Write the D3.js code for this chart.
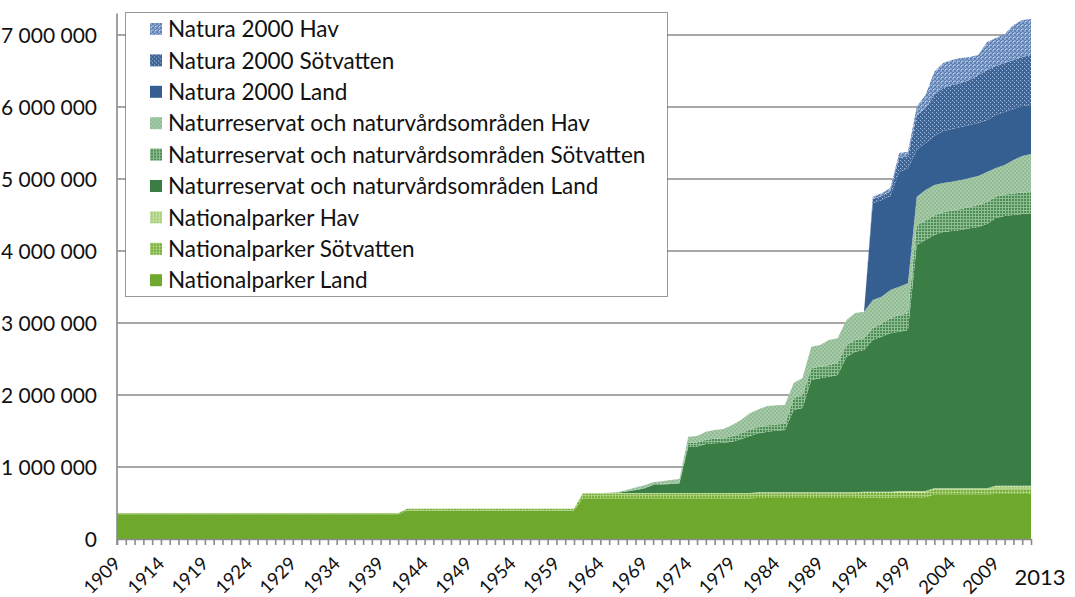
<!DOCTYPE html>
<html>
<head>
<meta charset="utf-8">
<script src="https://cdn.jsdelivr.net/npm/d3@7"></script>
<style>
  body { margin: 0; background: #fff; }
  text { font-family: Lato, "Open Sans", sans-serif; fill: #111; }
</style>
</head>
<body>
<div id="chart"></div>
<script>
// hectares per year, 1909-2013, one line per decade
var years = d3.range(1909, 2014)

var npLand = [345000,
  345000, 345000, 345000, 345000, 345000, 345000, 345000, 345000, 345000, 345000,
  345000, 345000, 345000, 345000, 345000, 345000, 345000, 345000, 345000, 345000,
  345000, 345000, 345000, 345000, 345000, 345000, 345000, 345000, 345000, 345000,
  345000, 345000, 395000, 395000, 395000, 395000, 395000, 395000, 395000, 395000,
  395000, 395000, 395000, 395000, 395000, 395000, 395000, 395000, 395000, 395000,
  395000, 395000, 565000, 565000, 565000, 565000, 565000, 565000, 565000, 565000,
  565000, 565000, 565000, 565000, 565000, 565000, 565000, 565000, 565000, 565000,
  565000, 565000, 570000, 570000, 570000, 570000, 570000, 570000, 570000, 570000,
  570000, 570000, 570000, 570000, 575000, 575000, 575000, 575000, 580000, 580000,
  580000, 580000, 620000, 620000, 620000, 620000, 620000, 620000, 620000, 625000,
  625000, 625000, 625000, 625000]

var npSot = [15000,
  15000, 15000, 15000, 15000, 15000, 15000, 15000, 15000, 15000, 15000,
  15000, 15000, 15000, 15000, 15000, 15000, 15000, 15000, 15000, 15000,
  15000, 15000, 15000, 15000, 15000, 15000, 15000, 15000, 15000, 15000,
  15000, 15000, 25000, 25000, 25000, 25000, 25000, 25000, 25000, 25000,
  25000, 25000, 25000, 25000, 25000, 25000, 25000, 25000, 25000, 25000,
  25000, 25000, 65000, 65000, 65000, 65000, 65000, 65000, 65000, 65000,
  65000, 65000, 65000, 65000, 65000, 65000, 65000, 65000, 65000, 65000,
  65000, 65000, 65000, 65000, 65000, 65000, 65000, 65000, 65000, 65000,
  65000, 65000, 65000, 65000, 65000, 65000, 65000, 65000, 65000, 65000,
  65000, 65000, 70000, 70000, 70000, 70000, 70000, 70000, 70000, 70000,
  70000, 70000, 70000, 70000]

var npHav = [0,
  0, 0, 0, 0, 0, 0, 0, 0, 0, 0,
  0, 0, 0, 0, 0, 0, 0, 0, 0, 0,
  0, 0, 0, 0, 0, 0, 0, 0, 0, 0,
  0, 0, 0, 0, 0, 0, 0, 0, 0, 0,
  0, 0, 0, 0, 0, 0, 0, 0, 0, 0,
  0, 0, 10000, 10000, 10000, 10000, 10000, 10000, 10000, 10000,
  10000, 10000, 10000, 10000, 10000, 10000, 10000, 10000, 10000, 10000,
  10000, 10000, 15000, 15000, 15000, 15000, 15000, 15000, 15000, 15000,
  15000, 15000, 15000, 15000, 17000, 17000, 17000, 17000, 22000, 22000,
  22000, 22000, 15000, 15000, 15000, 15000, 15000, 15000, 15000, 45000,
  45000, 45000, 45000, 45000]

var nrLand = [0,
  0, 0, 0, 0, 0, 0, 0, 0, 0, 0,
  0, 0, 0, 0, 0, 0, 0, 0, 0, 0,
  0, 0, 0, 0, 0, 0, 0, 0, 0, 0,
  0, 0, 0, 0, 0, 0, 0, 0, 0, 0,
  0, 0, 0, 0, 0, 0, 0, 0, 0, 0,
  0, 0, 0, 0, 0, 0, 4000, 18000, 42000, 60000,
  111000, 118000, 125000, 135000, 642000, 642000, 679000, 689000, 698000, 711000,
  745000, 791000, 818000, 840000, 854000, 864000, 1142000, 1169000, 1558000, 1582000,
  1604000, 1628000, 1878000, 1951000, 1968000, 2107000, 2153000, 2200000, 2213000, 2236000,
  3417000, 3486000, 3517000, 3558000, 3572000, 3586000, 3610000, 3628000, 3669000, 3718000,
  3746000, 3760000, 3774000, 3783000]

var nrSot = [0,
  0, 0, 0, 0, 0, 0, 0, 0, 0, 0,
  0, 0, 0, 0, 0, 0, 0, 0, 0, 0,
  0, 0, 0, 0, 0, 0, 0, 0, 0, 0,
  0, 0, 0, 0, 0, 0, 0, 0, 0, 0,
  0, 0, 0, 0, 0, 0, 0, 0, 0, 0,
  0, 0, 0, 0, 0, 0, 0, 3000, 5000, 7000,
  8000, 9000, 10000, 10000, 55000, 58000, 60000, 62000, 64000, 75000,
  85000, 86000, 88000, 90000, 88000, 85000, 167000, 181000, 162000, 161000,
  162000, 165000, 167000, 162000, 162000, 170000, 180000, 208000, 232000, 232000,
  278000, 270000, 270000, 275000, 285000, 292000, 296000, 306000, 306000, 300000,
  300000, 300000, 300000, 300000]

var nrHav = [0,
  0, 0, 0, 0, 0, 0, 0, 0, 0, 0,
  0, 0, 0, 0, 0, 0, 0, 0, 0, 0,
  0, 0, 0, 0, 0, 0, 0, 0, 0, 0,
  0, 0, 0, 0, 0, 0, 0, 0, 0, 0,
  0, 0, 0, 0, 0, 0, 0, 0, 0, 0,
  0, 0, 0, 0, 0, 4000, 10000, 21000, 27000, 40000,
  30000, 35000, 46000, 49000, 84000, 91000, 111000, 123000, 126000, 157000,
  183000, 229000, 245000, 267000, 265000, 262000, 208000, 236000, 301000, 301000,
  348000, 345000, 347000, 376000, 370000, 386000, 375000, 393000, 393000, 417000,
  393000, 425000, 424000, 406000, 400000, 403000, 402000, 402000, 417000, 395000,
  408000, 464000, 505000, 524000]

var n2kLand = [0,
  0, 0, 0, 0, 0, 0, 0, 0, 0, 0,
  0, 0, 0, 0, 0, 0, 0, 0, 0, 0,
  0, 0, 0, 0, 0, 0, 0, 0, 0, 0,
  0, 0, 0, 0, 0, 0, 0, 0, 0, 0,
  0, 0, 0, 0, 0, 0, 0, 0, 0, 0,
  0, 0, 0, 0, 0, 0, 0, 0, 0, 0,
  0, 0, 0, 0, 0, 0, 0, 0, 0, 0,
  0, 0, 0, 0, 0, 0, 0, 0, 0, 0,
  0, 0, 0, 0, 0, 1343000, 1343000, 1306000, 1593000, 1597000,
  649000, 653000, 681000, 722000, 732000, 736000, 736000, 736000, 722000, 736000,
  736000, 708000, 694000, 681000]

var n2kSot = [0,
  0, 0, 0, 0, 0, 0, 0, 0, 0, 0,
  0, 0, 0, 0, 0, 0, 0, 0, 0, 0,
  0, 0, 0, 0, 0, 0, 0, 0, 0, 0,
  0, 0, 0, 0, 0, 0, 0, 0, 0, 0,
  0, 0, 0, 0, 0, 0, 0, 0, 0, 0,
  0, 0, 0, 0, 0, 0, 0, 0, 0, 0,
  0, 0, 0, 0, 0, 0, 0, 0, 0, 0,
  0, 0, 0, 0, 0, 0, 0, 0, 0, 0,
  0, 0, 0, 0, 0, 60000, 56000, 69000, 194000, 171000,
  486000, 486000, 569000, 597000, 611000, 611000, 625000, 667000, 694000, 681000,
  681000, 681000, 681000, 694000]

var n2kHav = [0,
  0, 0, 0, 0, 0, 0, 0, 0, 0, 0,
  0, 0, 0, 0, 0, 0, 0, 0, 0, 0,
  0, 0, 0, 0, 0, 0, 0, 0, 0, 0,
  0, 0, 0, 0, 0, 0, 0, 0, 0, 0,
  0, 0, 0, 0, 0, 0, 0, 0, 0, 0,
  0, 0, 0, 0, 0, 0, 0, 0, 0, 0,
  0, 0, 0, 0, 0, 0, 0, 0, 0, 0,
  0, 0, 0, 0, 0, 0, 0, 0, 0, 0,
  0, 0, 0, 0, 0, 32000, 37000, 42000, 69000, 60000,
  115000, 181000, 324000, 347000, 347000, 347000, 319000, 278000, 389000, 389000,
  403000, 486000, 514000, 500000]

var seriesKeys = ['npLand', 'npSot', 'npHav', 'nrLand', 'nrSot', 'nrHav', 'n2kLand', 'n2kSot', 'n2kHav']
var seriesNames = ['Nationalparker Land', 'Nationalparker Sötvatten', 'Nationalparker Hav',
  'Naturreservat och naturvårdsområden Land', 'Naturreservat och naturvårdsområden Sötvatten',
  'Naturreservat och naturvårdsområden Hav',
  'Natura 2000 Land', 'Natura 2000 Sötvatten', 'Natura 2000 Hav']
var seriesValues = [npLand, npSot, npHav, nrLand, nrSot, nrHav, n2kLand, n2kSot, n2kHav]

var yTicks = [0, 1000000, 2000000, 3000000, 4000000, 5000000, 6000000, 7000000]
var xLabelYears = [1909, 1914, 1919, 1924, 1929, 1934, 1939, 1944, 1949, 1954, 1959,
  1964, 1969, 1974, 1979, 1984, 1989, 1994, 1999, 2004, 2009]
var lastLabel = '2013'
var yTop = 7300000

// styles
var fills = ['#6ea92e', 'url(#psot)', 'url(#phav)', '#3a7e45', 'url(#rsot)', 'url(#rhav)',
  '#365f91', 'url(#nsot)', 'url(#nhav)']
var gridColor = '#8a8a8a'

var width = 1075, height = 597

var svg = d3.select('#chart').append('svg')
    .attr('width', width)
    .attr('height', height)

var x = d3.scaleLinear()
    .domain([1909, 2013])
    .range([117, 1031])

var y = d3.scaleLinear()
    .domain([0, 7000000])
    .range([539, 35])

// fill patterns for Sötvatten / Hav
var defs = svg.append('defs')

function makePattern(id, size, bg, cells) {
  var p = defs.append('pattern')
      .attr('id', id)
      .attr('patternUnits', 'userSpaceOnUse')
      .attr('width', size)
      .attr('height', size)
  p.append('rect').attr('width', size).attr('height', size).attr('fill', bg)
  cells.forEach(function (c) {
    p.append('rect')
      .attr('x', c[0]).attr('y', c[1])
      .attr('width', c[2]).attr('height', c[3])
      .attr('fill', c[4])
  })
}

makePattern('psot', 3, '#76ae36', [[0, 0, 3, 1, '#a9cf7c'], [0, 0, 1, 3, '#a9cf7c']])
makePattern('phav', 3, '#b4d68c', [[0, 0, 1, 1, '#e2efd1'], [1, 1, 1, 1, '#9cc76c']])
makePattern('rsot', 3, '#4c8d55', [[0, 0, 3, 1, '#8fbd92'], [0, 0, 1, 3, '#8fbd92']])
makePattern('rhav', 4, '#a5caa8', [[0, 0, 2, 2, '#92bb96'], [2, 2, 2, 2, '#92bb96']])
makePattern('nsot', 4, '#3d6598', [[0, 0, 1, 1, '#a3b9d9'], [2, 2, 1, 1, '#a3b9d9'], [1, 1, 1, 1, '#6283b4']])
makePattern('nhav', 4, '#8ea7cd', [[0, 0, 2, 2, '#5f80b2'], [2, 2, 2, 2, '#5f80b2'], [1, 1, 1, 1, '#c9d6ea']])

// gridlines
svg.append('g')
  .selectAll('line')
  .data(yTicks.slice(1))
  .enter().append('line')
    .attr('x1', x(1909))
    .attr('x2', x(2013))
    .attr('y1', function (d) { return y(d) })
    .attr('y2', function (d) { return y(d) })
    .attr('stroke', gridColor)
    .attr('stroke-width', 1.6)

// stacked areas
var rows = years.map(function (yr, i) {
  var r = { year: yr }
  seriesKeys.forEach(function (k, j) { r[k] = seriesValues[j][i] })
  return r
})

var stacked = d3.stack().keys(seriesKeys)(rows)

var area = d3.area()
    .x(function (d) { return x(d.data.year) })
    .y0(function (d) { return y(d[0]) })
    .y1(function (d) { return y(d[1]) })

svg.append('g')
  .selectAll('path')
  .data(stacked)
  .enter().append('path')
    .attr('d', area)
    .attr('fill', function (d, i) { return fills[i] })

// x axis with a tick for every year
var xAxis = d3.axisBottom(x)
    .tickValues(years)
    .tickSize(6)
    .tickSizeOuter(0)
    .tickFormat('')

var xg = svg.append('g')
    .attr('transform', 'translate(0,' + y(0) + ')')
    .call(xAxis)
xg.selectAll('path, line').attr('stroke', gridColor).attr('stroke-width', 1.6)

// y axis line
svg.append('line')
    .attr('x1', x(1909)).attr('x2', x(1909))
    .attr('y1', y(yTop)).attr('y2', y(0) + 6)
    .attr('stroke', gridColor)
    .attr('stroke-width', 1.6)

var fmt = d3.formatLocale({ decimal: ',', thousands: '\u00a0', grouping: [3], currency: ['', ''] }).format(',d')

svg.append('g')
  .selectAll('text')
  .data(yTicks)
  .enter().append('text')
    .attr('x', x(1909) - 20)
    .attr('y', function (d) { return y(d) })
    .attr('dy', '0.36em')
    .attr('text-anchor', 'end')
    .attr('font-size', 21)
    .text(function (d) { return fmt(d) })

// rotated year labels
svg.append('g')
  .selectAll('text')
  .data(xLabelYears)
  .enter().append('text')
    .attr('transform', function (d) { return 'translate(' + x(d) + ',' + (y(0) + 21) + ') rotate(-45)' })
    .attr('text-anchor', 'end')
    .attr('dy', '0.36em')
    .attr('font-size', 18.5)
    .text(function (d) { return d })

svg.append('text')
    .attr('x', x(2013) + 9)
    .attr('y', y(0) + 46)
    .attr('text-anchor', 'middle')
    .attr('font-size', 22)
    .text(lastLabel)

// legend
var legend = svg.append('g')

legend.append('rect')
    .attr('x', 125.5)
    .attr('y', 12.5)
    .attr('width', 542)
    .attr('height', 284)
    .attr('fill', '#fff')
    .attr('stroke', '#333')
    .attr('stroke-width', 1)
    .attr('stroke-dasharray', '1,1')

var legendItems = legend.selectAll('g.item')
    .data(d3.range(seriesKeys.length).reverse())
    .enter().append('g')
    .attr('class', 'item')
    .attr('transform', function (d, i) { return 'translate(150,' + (29 + i * 31.4) + ')' })

legendItems.append('rect')
    .attr('x', 0)
    .attr('y', -6)
    .attr('width', 12)
    .attr('height', 12)
    .attr('fill', function (d) { return fills[d] })

legendItems.append('text')
    .attr('x', 18)
    .attr('dy', '0.36em')
    .attr('font-size', 22.5)
    .text(function (d) { return seriesNames[d] })
</script>
</body>
</html>
